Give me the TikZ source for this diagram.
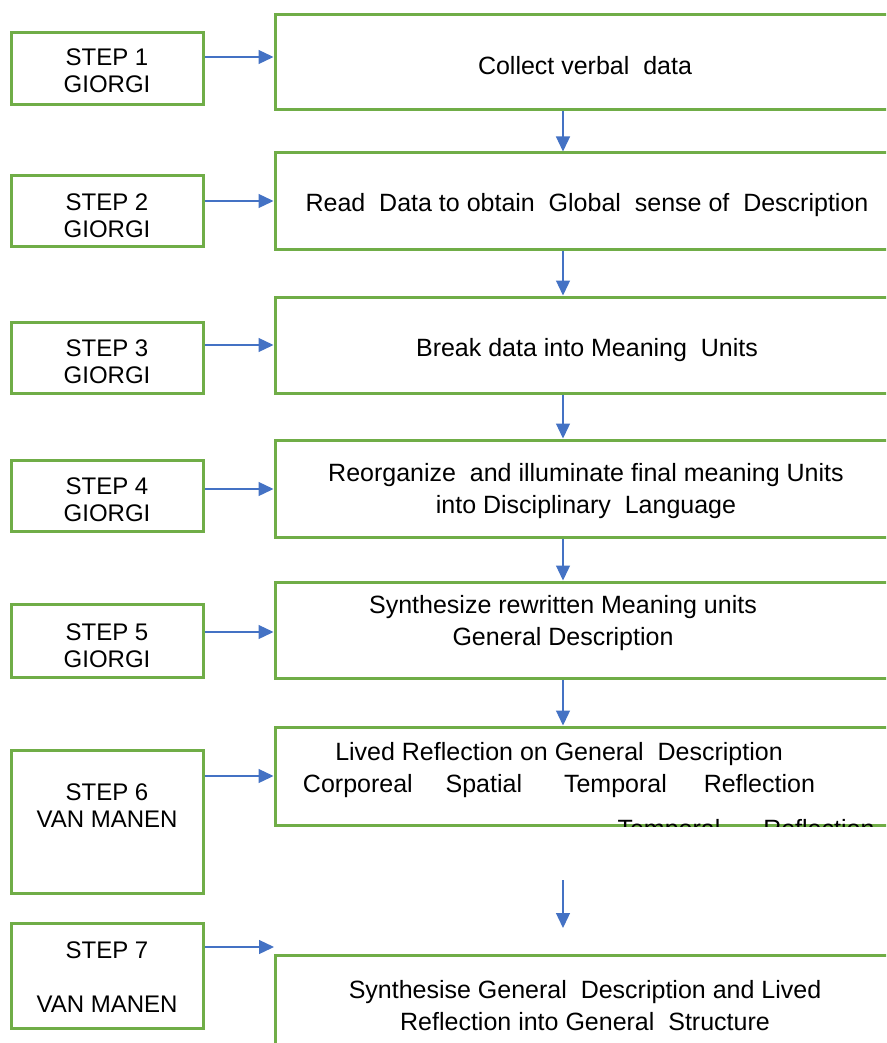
\documentclass[tikz,border=0pt]{standalone}
\usepackage{fontspec}
\setmainfont{Liberation Sans}
\usetikzlibrary{arrows.meta}
\definecolor{boxgreen}{HTML}{70AD47}
\definecolor{arrowblue}{HTML}{4472C4}
\begin{document}
\begin{tikzpicture}[x=1pt,y=-1pt,
  stepbox/.style={draw=boxgreen,line width=3pt,inner sep=0pt,minimum width=192pt},
  taskbox/.style={draw=boxgreen,line width=3pt,inner sep=0pt,minimum width=625pt},
  lefttext/.style={align=center,font=\fontsize{24}{27}\selectfont,inner sep=0pt},
  righttext/.style={align=center,font=\fontsize{25}{32}\selectfont,inner sep=0pt},
  arr/.style={draw=arrowblue,line width=1.3pt,-{Triangle[length=15pt,width=14pt]}}]
\useasboundingbox (0,0) rectangle (886,1043);
\clip (0,0) rectangle (886,1043);
% left step boxes
\node[stepbox,minimum height=72pt]  (l1) at (107,69) {};
\node[stepbox,minimum height=70pt]  (l2) at (107,211) {};
\node[stepbox,minimum height=71pt]  (l3) at (107,357.5) {};
\node[stepbox,minimum height=71pt]  (l4) at (107,495.5) {};
\node[stepbox,minimum height=73pt]  (l5) at (107,640.5) {};
\node[stepbox,minimum height=143pt] (l6) at (107,821.5) {};
\node[stepbox,minimum height=105pt] (l7) at (107,975.5) {};
% right task boxes
\node[taskbox,minimum height=95pt]  (r1) at (587.5,62.5) {};
\node[taskbox,minimum height=96pt]  (r2) at (587.5,201) {};
\node[taskbox,minimum height=96pt]  (r3) at (587.5,345) {};
\node[taskbox,minimum height=97pt]  (r4) at (587.5,488.5) {};
\node[taskbox,minimum height=96pt]  (r5) at (587.5,630) {};
\node[taskbox,minimum height=98pt]  (r6) at (587.5,776) {};
\node[taskbox,minimum height=145pt] (r7) at (587.5,1027.5) {};
% left texts
\node[lefttext] (s1) at (107,71) {STEP 1\\GIORGI};
\node[lefttext] (s2) at (107,215.5) {STEP 2\\GIORGI};
\node[lefttext] (s3) at (107,361.5) {STEP 3\\GIORGI};
\node[lefttext] (s4) at (107,499.5) {STEP 4\\GIORGI};
\node[lefttext] (s5) at (107,645.5) {STEP 5\\GIORGI};
\node[lefttext] (s6) at (107,805.5) {STEP 6\\VAN MANEN};
\node[lefttext] (s7) at (107,977) {STEP 7\\[27pt]VAN MANEN};
% right texts
\node[righttext] (t1) at (585,66) {Collect verbal\ \ data};
\node[righttext] (t2) at (587,205) {Read\ \ Data to obtain\ \ Global\ \ sense of\ \ Description};
\node[righttext] (t3) at (587,350) {Break data into Meaning\ \ Units};
\node[righttext] (t4) at (586,491) {Reorganize\ \ and illuminate final meaning Units\\into Disciplinary\ \ Language};
\node[righttext] (t5) at (563,623) {Synthesize rewritten Meaning units\\General Description};
\begin{scope}
  \clip (r6.north west) rectangle (r6.south east);
  \node[righttext] (t6) at (559,770) {Lived Reflection on General\ \ Description\\Corporeal\hspace{26pt} Spatial\hspace{35pt} Temporal\hspace{30pt} Reflection};
  \node[righttext] (t6b) at (746,831) {Temporal\hspace{36pt} Reflection};
\end{scope}
\node[righttext] (t7) at (585,1006) {Synthesise General\ \ Description and Lived\\Reflection into General\ \ Structure};
% horizontal arrows
\foreach \i/\y in {1/57,2/201,3/345,4/489,5/632,6/776}{
  \coordinate (h\i) at (0,\y);
  \draw[arr] (l\i.east |- h\i) -- (r\i.west |- h\i);
}
\coordinate (h7) at (0,947);
\coordinate (e7) at (274,947);
\draw[arr] (l7.east |- h7) -- (e7);
% vertical arrows
\coordinate (vx) at (563,0);
\foreach \a/\b in {1/2,2/3,3/4,4/5,5/6}{
  \draw[arr] (vx |- r\a.south) -- (vx |- r\b.north);
}
\coordinate (v6a) at (563,880);
\coordinate (v6b) at (563,928);
\draw[arr] (v6a) -- (v6b);
\end{tikzpicture}
\end{document}
